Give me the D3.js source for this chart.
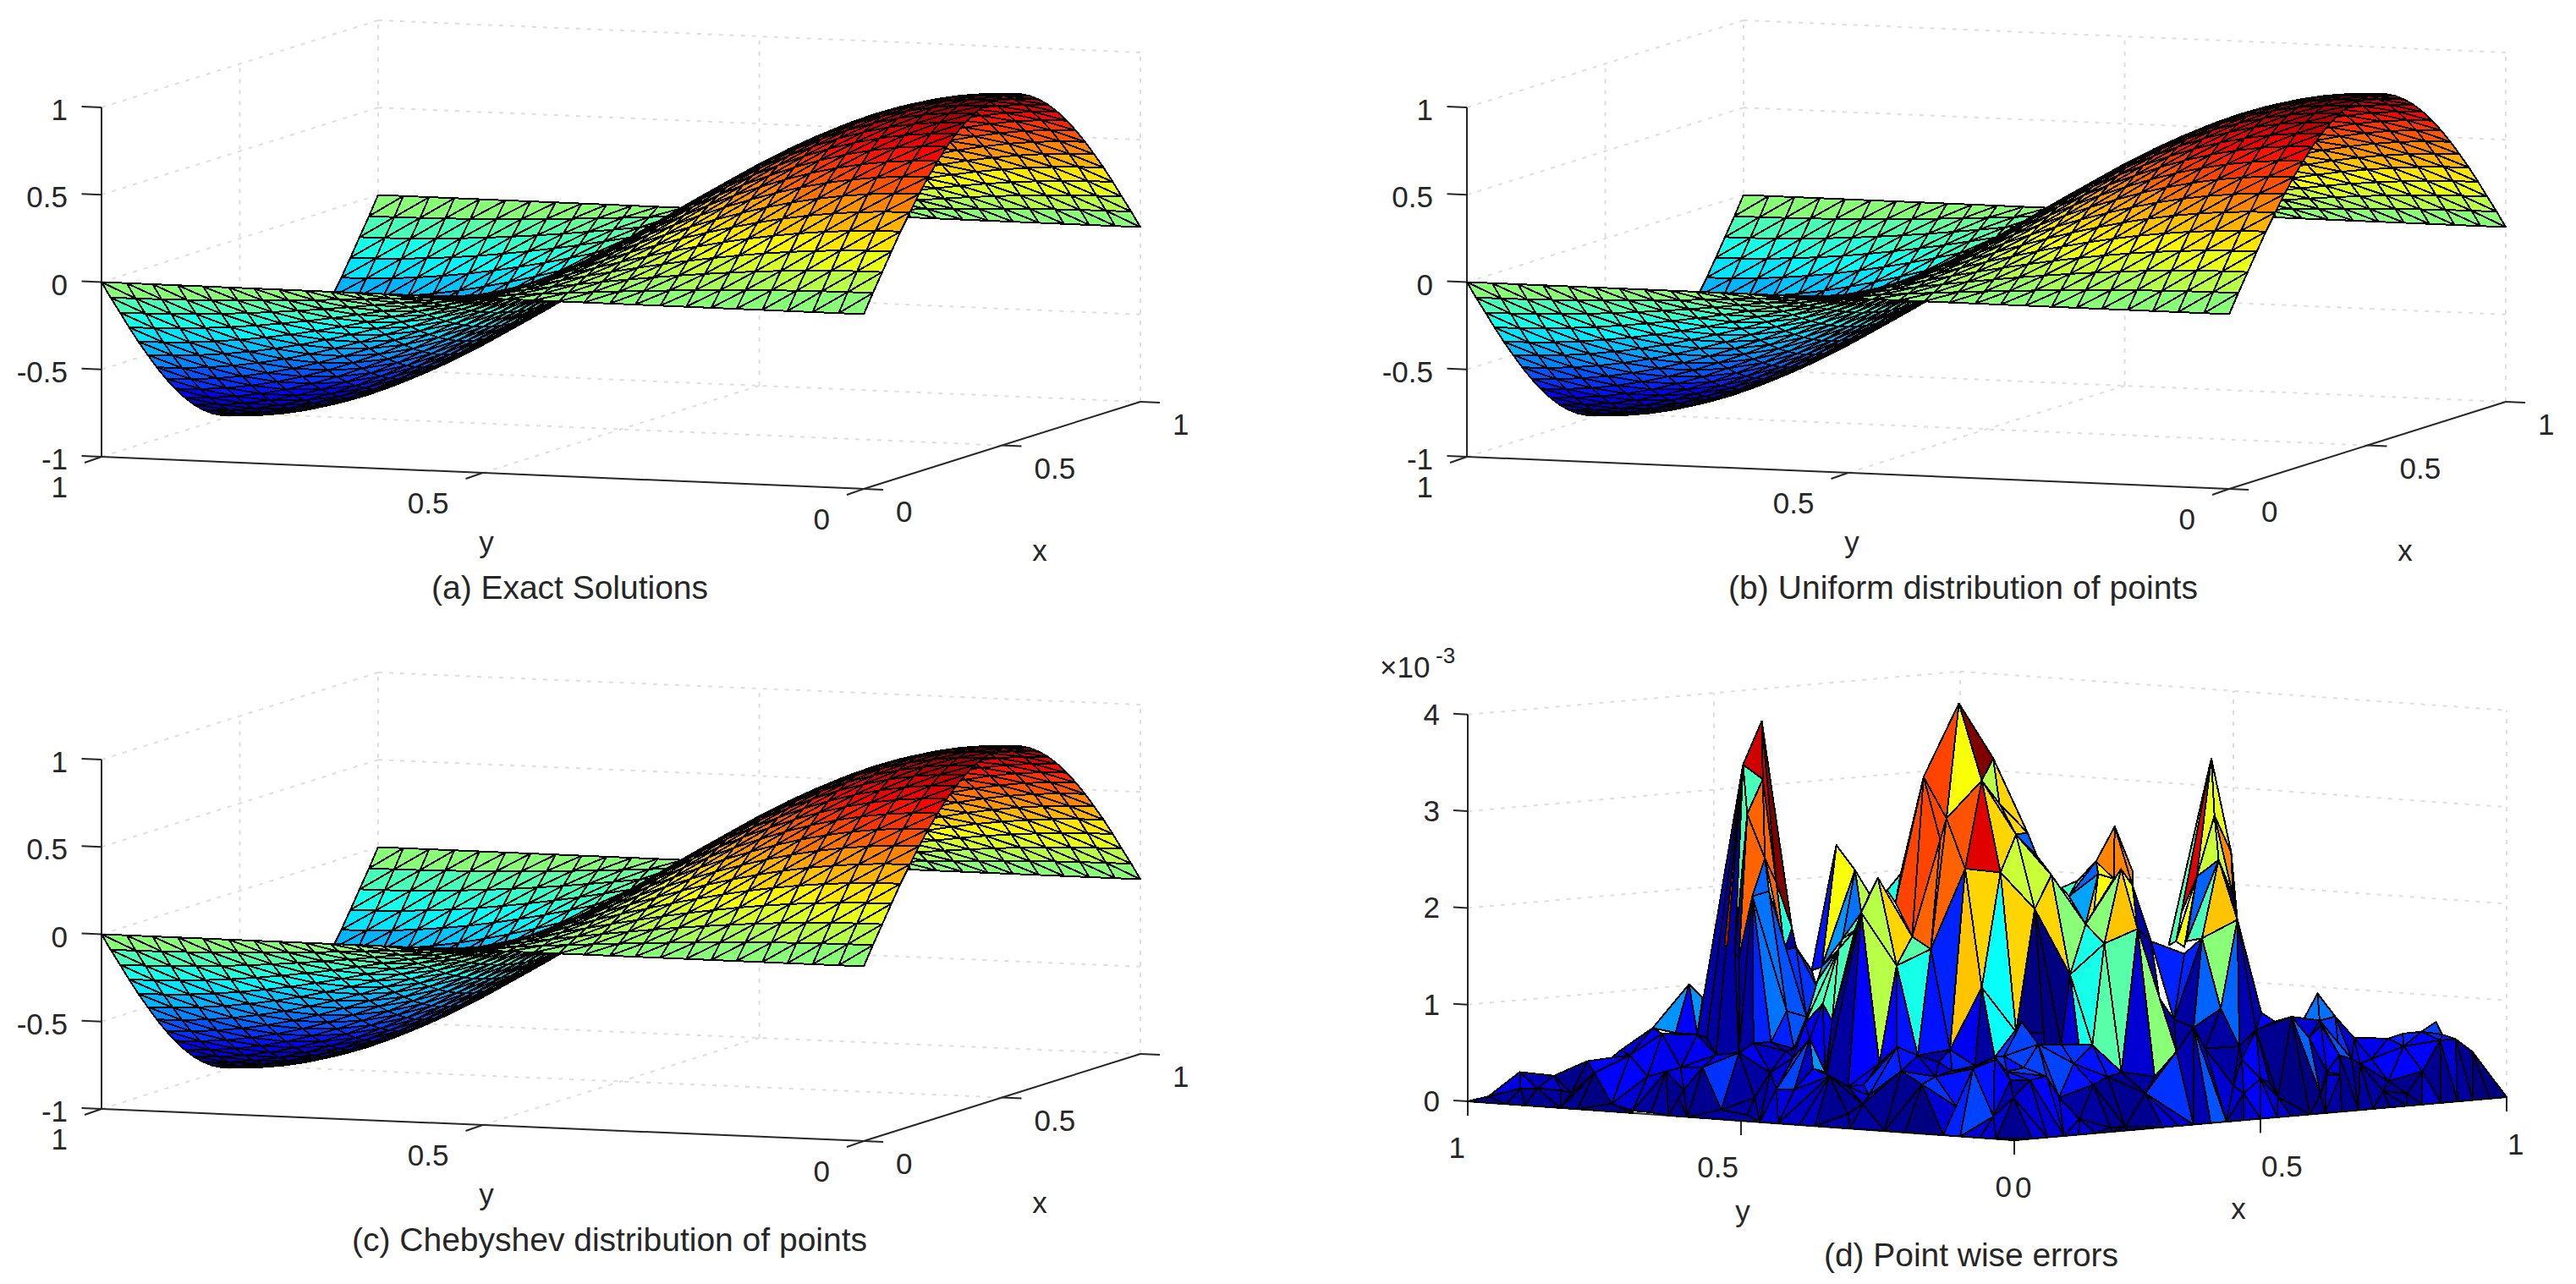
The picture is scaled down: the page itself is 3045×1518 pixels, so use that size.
<!DOCTYPE html>
<html>
<head>
<meta charset="utf-8">
<script src="https://cdnjs.cloudflare.com/ajax/libs/d3/7.8.5/d3.min.js"></script>
<style>
  body { margin: 0; background: #fff; }
  text { font-family: "Liberation Sans", Arial, sans-serif; font-size: 35px; fill: #262626; }
  text.caption { font-size: 39px; }
  .grid { stroke: #dedede; stroke-width: 2; stroke-dasharray: 5 8; fill: none; }
  .axis { stroke: #262626; stroke-width: 2; fill: none; }
  .face { stroke: #000; stroke-width: 2; stroke-linejoin: round; shape-rendering: crispEdges; }
</style>
</head>
<body>
<svg width="3045" height="1518"></svg>
<script>
let svg = d3.select("svg");

// surface (a,b,c): u(x,y) read as a profile along x times a profile along y
const meshCoords = [0,.033,.067,.1,.133,.167,.2,.233,.267,.3,.333,.367,.4,.433,.467,.5,.533,.567,.6,.633,.667,.7,.733,.767,.8,.833,.867,.9,.933,.967,1];
const profileX = [0,.105,.208,.309,.407,.5,.588,.669,.743,.809,.866,.914,.951,.978,.995,1,.995,.978,.951,.914,.866,.809,.743,.669,.588,.5,.407,.309,.208,.105,0];
const profileY = [1,.995,.978,.951,.914,.866,.809,.743,.669,.588,.5,.407,.309,.208,.105,0,-.105,-.208,-.309,-.407,-.5,-.588,-.669,-.743,-.809,-.866,-.914,-.951,-.978,-.995,-1];

const captions = ["(a) Exact Solutions", "(b) Uniform distribution of points", "(c) Chebyshev distribution of points", "(d) Point wise errors"];
const surfaceZTicks = [-1,-.5,0,.5,1];
const errorZTicks = [0,1,2,3,4];
const floorTicks = [0,.5,1];

// error mesh (d): [name, x, y, z*1e3]
const errNodes = [
["F0",0,0,0],
["L0",0,1,0],["L1",.02,.98,.05],["L2",.05,.95,.30],["L3",.083,.917,.26],["L4",.115,.885,.41],["L5",.137,.863,.43],["L6",.147,.853,.52],["L7",.178,.822,.75],["L8",.213,.787,1.20],["L9",.226,.774,1.06],["L10",.187,.813,.69],["L11",.221,.779,.68],["L13",.2,.8,.70],["L14",.177,.823,.62],["L15",.156,.844,.47],["L16",.205,.795,.34],["L17",.173,.827,.25],["L18",.239,.761,.47],["L19",.122,.878,.29],["L21",.099,.826,0],
["P1",.051,.949,.13],["P2",.067,.933,.13],["P3",.09,.91,.11],["P4",.10,.90,.08],
["E1",0,.969,0],["E2",0,.93,0],["E3",0,.896,0],["E4",0,.83,0],["E5",0,.799,0],["E6",0,.698,0],
["U1",.226,.774,.34],["U2",.191,.809,.30],["U4",.031,.726,0],["U5",.026,.688,0],["U6",0,.633,0],["U7",0,.598,0],["U8",.123,.647,0],["U10",.208,.792,.11],["U11",.081,.562,0],
["A1",.283,.717,3.92],["A2",.265,.735,3.47],["A3",.284,.716,3.32],["A4",.269,.731,2.96],["A5",.286,.714,2.50],["A6",.274,.726,2.11],["A7",.29,.71,2.16],["A9",.261,.739,1.47],["A10",.307,.693,.92],["A11",.292,.708,.60],["A12",.275,.725,.59],["A13",.261,.739,.49],["A14",.23,.77,.65],["A15",.257,.743,1.52],["A16",.314,.686,.53],["AL1",.23,.77,1.21],["AT1",.247,.753,1.60],["AT2",.25,.75,1.60],["Ar1",.297,.703,2.25],["Ar2",.312,.688,1.78],["Ar3",.305,.695,1.55],
["M2",.326,.674,.86],["M3",.336,.664,1.17],["M4",.316,.684,1.58],["M5",.331,.669,1.34],
["b1",.578,.622,4.01],["b2",.544,.656,3.25],["b3",.611,.589,3.44],["b4",.6,.6,3.21],["b5",.566,.634,2.82],["b7",.56,.64,2.60],["b8",.584,.616,2.30],["b9",.618,.582,2.26],["b10",.633,.567,2.65],["b11",.644,.556,2.67],["b12",.653,.547,2.43],["b13",.667,.533,2.23],["b14",.651,.549,1.88],["b16",.533,.667,1.60],["b17",.551,.649,1.47],["b18",.522,.678,2.25],["bx",.517,.683,1.95],["B0",.509,.691,2.08],["b22",.617,.583,2.97],
["d1",.484,.716,1.85],["d2",.5,.7,2.21],["d3",.46,.74,2.55],["d4",.478,.722,2.29],["d5",.518,.682,1.30],["d6",.6,.6,1.07],["dS",.492,.708,2.04],["d8",.359,.441,.60],["d9",.328,.472,.54],["d10",.308,.492,.63],["d11",.291,.509,.46],["d12",.402,.398,.52],["d13",.261,.539,.22],["d14",.24,.56,.35],["d17",.633,.567,.61],["d18",.383,.417,.43],["d19",.662,.538,.59],
["n4",.446,.754,1.29],["n5",.466,.734,1.58],["n6",.478,.722,1.67],["n7",.462,.738,1.47],["n8",.442,.758,1.15],["n9",.43,.77,.71],["n10",.447,.753,.91],["n11",.456,.744,.73],
["c1",.7,.5,1.72],["c2",.685,.515,1.20],["c3",.718,.482,1.52],["c4",.75,.45,1.67],["c5",.734,.466,2.29],["c6",.728,.472,2.73],["c7",.71,.49,2.37],["c8",.712,.488,2.24],["c9",.684,.516,2.01],["c10",.677,.523,2.10],["c11",.692,.508,2.17],["c12",.727,.473,2.19],["c13",.745,.455,2.12],["c14",.763,.437,1.54],["c15",.795,.405,1.41],["c16",.745,.455,2.27],["cY",.708,.492,1.86],["cy1",.755,.445,1.55],["cy2",.762,.438,1.54],["z8",.771,.429,.95],
["e1",.821,.379,3.43],["e2",.824,.376,2.84],["e3",.828,.372,2.38],["e4",.807,.393,2.21],["e5",.846,.354,1.76],["e6",.812,.388,1.57],["e8",.84,.36,2.46],["e9",.788,.412,1.74],["e10",.78,.42,1.50],["e12",.792,.408,1.83],["e15",.787,.413,1.54],["e16",.842,.358,2.00],["e17",.797,.403,1.54],["ey",.795,.405,1.48],["e18",.83,.37,.84],["e19",.804,.396,.65],["e20",.848,.352,.45],["e21",.869,.331,.80],["e22",.864,.336,.62],["e23",.815,.385,.43],["e24",.785,.415,.73],
["g2",.777,.223,.79],["g3",.793,.207,.84],["g5",.818,.182,1.08],["g6",.835,.165,.84],["g7",.804,.196,.80],["g8",.82,.18,.80],["g9",.853,.147,.62],["g10",.886,.114,.61],["g11",.9,.1,.66],["g12",.918,.082,.68],["g13",.932,.068,.78],["g14",.938,.062,.65],["g15",.951,.049,.60],["g16",.967,.033,.47],["G",1,0,0],
["h3",.821,.179,.75],["h4",.839,.161,.44],["h5",.851,.149,.40],["h6",.859,.141,.35],["h7",.87,.13,.40],["h9",.901,.099,.53],["h10",.886,.114,.17],["h11",.919,.081,.27],["h12",.936,.064,.59],["h14",.904,.096,.04],["h15",.881,.119,.07],["h16",.84,.16,.24],["h17",.827,.173,.23],["h18",.827,.173,.27],["h19",.81,.19,.62],["h21",.821,.179,.03],
["t1",.745,.255,.40],["t2",.737,.263,.13],["t3",.763,.237,.20],["t4",.747,.253,.05],["t5",.78,.22,.01],["t6",.772,.228,.16],
["Q3",.186,.614,.37],["Q5",.171,.629,.11],["Q6",.208,.592,.52],["Q7",.224,.576,.72],["Q9",.192,.608,.20],["Q10",.209,.591,.19],["Q11",.227,.573,.41],["Q12",.243,.557,.33],["Q13",.239,.561,.37],["Q18",.275,.525,.04],["Q22",.184,.47,0],["Q23",.332,.468,.24],["Q30",.284,.294,0],["Q31",.42,.38,.10],["Q32",.436,.364,.28],["Q33",.417,.383,.28],["Q35",.201,.599,.59],["Q36",.365,.435,.01],
["R2",.276,.524,.24],["R4",.281,.519,.13],["R6",.312,.488,.38],["R7",.345,.455,.32],["R8",.361,.439,.38],["R9",.348,.452,.47],["R12",.381,.419,.40],["R14",.411,.389,.53],["R15",.428,.372,.88],["R16",.444,.356,.65],["R19",.414,.386,.37],["R20",.43,.37,.41],["R21",.452,.348,.32],
["z0",.45,.35,.65],["z1",.466,.334,.65],["z2",.483,.317,.65],["z3",.496,.304,.64],["z4",.524,.276,.36],["z5",.556,.244,.31],["z6",.577,.223,.57],
["w1",.478,.322,.45],["w2",.497,.303,.23],["w3",.464,.336,.10],["w4",.511,.289,.31],["w5",.547,.253,.14],["w6",.33,.178,0],["w7",.25,.049,0],["w8",.274,.044,0],
["jA",0,.033,0],["jC",0,.099,0],["jB",0,.063,0],["jD",0,.13,0],["jE",0,.20,0],["jF",0,.237,0],["jG",0,.30,0],["jH",0,.365,0],["jI",0,.393,0],["jJ",0,.432,0],["jK",0,.466,0],
["kA",.966,0,0],["kB",.931,0,0],["kC",.90,0,0],["kD",.866,0,0],["kE",.828,0,0],["kF",.797,0,0],["kG",.763,0,0],["kH",.729,0,0],["kI",.699,0,0],["kJ",.665,0,0],["kK",.631,0,0],["kL",.60,0,0],["kM",.562,0,0],["kN",.534,0,0],["kO",.5,0,0],["kP",.466,0,0],["kQ",.431,0,0],["kR",.399,0,0],["kS",.364,0,0],["kT",.333,0,0],["kU",.302,0,0],["kV",.23,0,0],["kW",.199,0,0],["kX",.165,0,0],["kY",.131,0,0],["kZ",.101,0,0],["ka",.067,0,0],["kb",.036,0,0]
];

// error faces, back to front: "node node node colourValue"
const errFaces = [
// low ground under everything
"L11 e22 F0 .1","L11 U7 F0 .1","e22 kO F0 .1","kO kK e22 .1","e22 g3 kK .1",
"L7 L8 L13 1.1","L8 L9 L11 1.1","L8 L13 L11 .55","L7 L14 L10 .7","L4 L5 L15 .4","L5 L6 L15 .4","L6 L7 L15 .35","L7 L10 L15 .45","L15 L10 L17 .5","L10 L16 L17 .45","L10 L11 L16 .4","L11 L18 L16 .45","L4 L15 L19 .5","L15 L19 L21 .55","L15 L17 L21 .5",
"L0 L1 E1 .1","L1 E1 E2 .1","L1 P1 E2 .1","L1 L2 P1 .4","L2 P1 P2 .45","L2 L3 P2 .2","L3 P2 P3 .3","L3 P3 P4 .2","L3 L4 P4 .05","L4 L19 P4 .05","P1 E2 E3 .1","P1 P2 E3 .08","P2 E3 E4 .08","P2 P3 E4 .1","P3 P4 E4 .05","L19 P4 E4 .04","L19 E4 E5 .05","L19 E5 L21 .03","L21 E5 E6 .05",
"L21 L17 U4 .3","L17 U4 U2 .3","L21 U4 E6 .05","L17 L16 U2 .4","U2 U4 U5 .15","U2 U5 U6 .1","U2 U6 U7 .08","U2 U10 U7 .1","U2 U6 U10 .08","U2 U10 L16 .4","L16 U10 U1 .4","L16 L18 U1 .45",
// peak on the left
"M4 M5 M3 .7","M4 M3 M2 .7","Ar3 M4 M2 .7","Ar2 M4 Ar3 .1","A1 Ar2 Ar1 4.1","Ar1 Ar2 Ar3 1.7",
"A2 AL1 L11 .5","A2 L11 A14 .2","A2 A14 L18 .15","A2 L18 A13 .15","A2 A13 A15 .15","A2 A15 A4 1.85","A2 AT1 AT2 3.7","A4 A15 A9 .1",
"A1 A3 Ar1 3.75","A1 A2 A3 3.75","A2 A3 A4 1.85","A3 A4 A5 3.2","A3 A5 Ar1 3.2","A4 A9 A5 3.2","A5 A9 A6 3.2","A5 Ar1 Ar3 3.2","A5 Ar3 A7 2.3","A7 Ar3 M2 2.3","A7 M2 A10 .85","A5 A6 A7 .9",
"A6 A9 A13 .15","A6 A12 A13 .15","A6 A11 A12 .68","A6 A10 A11 1.0","A6 A7 A10 1.0","A10 A11 A16 .68","A10 A16 M2 .85",
// central peak
"B0 b18 bx 1.65","bx b2 b18 3.33","bx b2 b16 3.33","b2 b7 b16 3.33","b1 b2 b5 3.3","b2 b7 b5 3.3","b7 b17 b16 3.2","b5 b7 b17 3.25","b5 b8 b17 3.2",
"b1 b5 b4 2.56","b1 b4 b3 4.1","b4 b5 b8 3.25","b4 b9 b8 3.71","b3 b22 b4 2.3","b3 b11 b22 2.75","b4 b22 b10 2.72","b22 b11 b10 2.72","b10 b11 b12 .9","b4 b10 b9 2.72","b10 b14 b9 2.35","b10 b13 b14 2.35","b10 b12 b13 2.35",
// lobes behind the right of the centre
"c10 c11 c9 1.75","c11 c7 c9 1.75","c7 c8 c9 .9","c6 c7 c12 3.05","c7 c8 c12 2.6","c6 c12 c13 3.05","c6 c13 c16 3.05","c8 c12 cY 2.56","c8 cY c1 2.72","c8 c1 c9 1.15","c12 c13 c4 2.56",
"c5 c13 c4 2.56","c13 c14 c4 .1","cy1 cy2 z8 2.56",
// right peak
"e10 e9 e1 .9","e10 e1 e15 1.85","e12 e1 e4 3.71","e15 e4 e17 1.85","e15 e4 ey 2.56","e1 e4 e2 2.45","e1 e2 e8 2.45","e2 e8 e16 3.05","e8 e16 e5 .1","e2 e4 e3 2.35","e2 e3 e16 2.35","e3 e16 e5 .1","e4 e3 e17 .9","e3 e6 e17 1.85","e3 e5 e6 2.79",
"c15 e6 e24 .64","c14 c15 e24 .64","c4 c14 z8 .1","z8 e24 z6 .1","e6 e5 e18 2.05","e6 e18 e19 .9","e6 e19 e24 .1","e24 e19 z6 .15","e18 e19 e23 .1","e5 e18 e20 .9","e5 e20 e22 .2","e5 e21 e22 .2",
// low ground on the right, back part
"e21 g2 e22 .55","g5 g7 g8 1.0","g5 g8 g6 1.0","g7 g3 g8 1.1","g3 g8 h19 .3","e22 g3 h19 .1","g6 g8 h4 .7","g6 g9 h5 .35","g6 h4 h5 .7","g8 h4 h5 .85","g9 g10 h7 .45","g9 h5 h6 .4","g9 h6 h7 .45","g10 g11 h9 .65","g10 h9 h7 .5","g11 g12 h9 .65","g12 g13 g14 .8","g12 g14 h12 .65","g12 h12 h9 .55","g14 g15 h12 .6",
// yellow shoulder and middle spikes
"d3 M5 n4 .6","d3 n4 d4 2.56","d4 n4 n5 1.1","d4 d1 n5 1.0","d4 dS d1 2.3","n5 d1 n6 1.75","n5 n6 n7 1.85","n4 n7 n8 1.1","M3 n8 n9 .7","n7 n8 n9 1.75","n7 n9 n10 1.8","n7 n10 n11 1.85","n7 n6 n11 1.85","d1 n6 n11 .15","d1 d14 n11 .1","d1 d14 d13 .1",
"d2 dS d1 2.3","d2 d1 d5 2.3","d2 d5 b16 2.72","d1 d5 d11 2.3","d1 d11 d13 .5","d11 d13 R2 .5","d11 R2 d10 .5","d5 d10 d11 .5","d5 d9 d10 .6","d5 b17 d9 1.65","d5 b16 b17 1.9",
"b8 b17 d8 .64","b17 d9 d8 .6","b8 d6 d8 2.79","b8 b9 d6 2.72","b9 d6 d17 1.54","b9 b14 d17 2.72","d6 d18 d8 .45","d6 d12 d18 .1","d6 d17 d12 1.54",
"b14 d17 d19 .03","b14 z0 d19 .03","b14 z1 z0 .03","b14 c2 z1 .03","b13 b14 c2 2.72","b13 c1 c2 2.1","c1 c3 c2 1.6","c5 c1 c3 2.05","c5 c3 c4 2.79","c2 z2 z1 .3","c2 z3 z2 1.6","c2 c3 z3 1.6","c3 z3 z4 1.9","c3 c4 z4 1.9","c4 z4 z5 .3","c4 z5 z6 2.1",
// front of the left peak
"A11 A16 Q35 .3","A12 A11 Q35 .35","U1 L18 A13 .45","U1 U10 U7 .1","U1 U7 U8 .05","A13 U1 U8 .7","A13 Q5 U8 .15","Q5 U8 U11 .1","A13 Q3 Q5 .15","A12 A13 Q3 .45","A12 Q35 Q3 .25","Q35 Q6 Q3 .3","Q3 Q6 Q9 .35",
"n10 n9 Q7 .45","n10 Q7 Q13 .45","n10 Q13 n11 .5","Q6 n9 Q7 .5","Q7 Q9 Q10 .75","Q6 Q7 Q9 .75","Q7 Q10 Q11 .25","Q7 Q11 Q13 1.1","Q3 Q9 jK .2","Q3 Q5 jK .12","Q5 U11 jK .1","Q9 Q10 jJ .4","Q9 jK jJ .3","Q11 Q12 Q10 .5","Q10 Q12 jJ .35","Q12 jJ jI .25","Q12 jI jH .25","Q12 jH Q22 .05","Q12 Q22 Q18 .08","Q12 d13 Q18 .1",
// front of the centre
"d13 R2 R4 .45","d13 R4 Q18 .4","d10 R2 R4 .65","d10 R4 R6 .65","d10 R6 d9 .6","d9 R6 R7 .35","d9 R7 R9 .3","d8 R9 R8 .6","d8 d18 R8 .64","R9 R7 R8 .3","R8 R12 R7 .6",
"R6 R7 Q23 .65","R7 Q36 Q23 .7","R7 R12 Q36 .6","R4 Q18 R6 .35","R6 Q18 jF .06","R6 jF Q23 .04","Q23 jF jE .05","Q23 jE jD .03","Q23 Q36 jD .3","Q22 jH jG .1","Q22 Q18 jG .15","Q18 jG jF .1",
"Q36 R12 jD .64","R12 jD jC .68","R12 jC Q30 .8","R12 Q30 R14 .6","R12 d12 R14 .7","jC Q30 jB .3","Q30 jB jA .3",
"R15 d12 R14 .7","R15 R14 R16 .75","R14 R16 R20 .8","R16 R21 R20 .75","R14 R20 R19 .6","d12 R14 R19 .7","R19 R20 R21 .75","R19 R21 Q32 .6","R19 Q32 Q33 .6","d12 R19 Q33 .6","d12 Q33 Q30 .5",
"Q33 Q32 Q31 .15","Q33 Q31 Q30 .2","Q31 Q30 jA .35","Q31 jA kb .04","Q31 kb ka .3","Q32 Q31 ka .35","Q32 ka kZ .3","R21 Q32 kZ .55","R21 w3 kZ .5","R16 R21 w3 .7",
"R16 z1 w1 .7","z1 z3 w1 .7","R16 w1 w3 .78","w1 w2 w3 .6","w1 z3 w4 .6","w1 w4 w2 .55",
"w3 w6 kZ .4","w6 kY kZ .3","w6 kX kY .35","w3 w2 w6 .1","w2 w6 w7 .1","w6 w7 kX .2","w7 kW kX .25","w2 w7 w8 .04","w8 w7 kW .05","w2 w4 w8 .06","w4 w5 w8 .05","z3 z4 w4 .6","z4 w5 w4 .05","z4 z5 w5 .1","w5 w8 kU .08","w8 kU kV .05","w5 kU kT .3","w5 kT kS .35","z5 z6 w5 .3",
"z6 w5 kS .7","e19 z6 kS .2","e19 kS kR .2","e19 kR kQ .85","e19 e23 kQ .35","e23 t2 kQ .35","e23 e20 t2 .1","e18 e23 e20 .1","e20 t1 t2 .1","e20 e22 t1 .1",
// front of the right side
"t2 t4 t1 .3","t2 kQ t4 .35","t1 t4 t3 .55","e22 t1 t3 .5","e22 t3 t6 .45","t4 kQ kP .15","t4 kP kO .3","t4 t3 kO .55","t3 kO kN .55","t3 t5 kN .3","t6 t3 t5 .1","e22 t6 t5 .08","g2 g3 e22 .1","e22 g3 t5 .06","t5 kN kM .3","t5 kM kL .05","g3 t5 kL .03","g3 kL h21 .03","g3 h21 h19 .9",
"g8 h3 h19 .3","h3 h4 h18 .5","h3 h19 h18 .5","h19 h21 h18 .1","h18 h4 h16 .4","h18 h17 h16 .3","h18 h21 h17 .1","h17 h16 kK .3","h17 kK h21 .1","h21 kK kL .05","h16 kK kJ .1","h16 h4 kJ .3","h4 kJ kI .05","h4 h5 kI .1","h5 h6 kI .05","h6 kI kH .1",
"h7 h6 h10 .4","h6 h15 h10 .15","h6 kH h15 .1","h15 kH kG .05","h15 kG kF .05","h15 h14 kF .05","h10 h15 h14 .08","h9 h7 h10 .5","h9 h10 h11 .55","h9 h12 h11 .5","h10 h14 h11 .08","h14 kF kE .05","h14 h11 kE .05","h11 kE kD .3","h11 h12 kD .05","h12 kD kC .05","h12 g15 kC .3","g15 kC kB .15","g15 g16 kB .05","g16 kB kA .03","g16 kA G .03"
];

// jet colormap, 64 steps like the matlab one
const jetStops = [0,.125,.375,.625,.875,1];
const jetColours = ["#000080","#0000ff","#00ffff","#ffff00","#ff0000","#800000"];
let jetRamp = d3.scaleLinear().domain(jetStops).range(jetColours).interpolate(d3.interpolateRgb);
let jet = t => jetRamp(Math.round(Math.max(0, Math.min(1, t)) * 63) / 63);

let makeProjection = (left, xVec, yVec, zDomain, zPixels) => {
  let xToX = d3.scaleLinear([0, 1], [0, xVec[0]]), xToY = d3.scaleLinear([0, 1], [0, xVec[1]]);
  let yToX = d3.scaleLinear([1, 0], [0, yVec[0]]), yToY = d3.scaleLinear([1, 0], [0, yVec[1]]);
  let zToY = d3.scaleLinear(zDomain, [0, -zPixels]);
  return (x, y, z) => [left[0] + xToX(x) + yToX(y), left[1] + xToY(x) + yToY(y) + zToY(z)];
}

// walls, floor lines and axes of one box
let drawBox = (g, project, zTicks, style) => {
  let zMin = zTicks[0], zMax = zTicks[zTicks.length - 1];
  let gridLine = (a, b) => g.append("line").attr("class", "grid")
    .attr("x1", a[0]).attr("y1", a[1]).attr("x2", b[0]).attr("y2", b[1]);
  for (const z of zTicks.slice(1)) {
    gridLine(project(0, 1, z), project(1, 1, z));
    gridLine(project(1, 1, z), project(1, 0, z));
  }
  for (const t of floorTicks.slice(1)) {
    gridLine(project(t, 1, zMin), project(t, 1, zMax));
    gridLine(project(1, 1 - t, zMin), project(1, 1 - t, zMax));
  }
  gridLine(project(.5, 1, zMin), project(.5, 0, zMin));
  gridLine(project(0, .5, zMin), project(1, .5, zMin));
  gridLine(project(0, 1, zMin), project(1, 1, zMin));
  gridLine(project(1, 1, zMin), project(1, 0, zMin));

  let axisLine = (a, b) => g.append("path").attr("class", "axis").attr("d", d3.line()([a, b]));
  axisLine(project(0, 1, zMin), project(0, 1, zMax));
  axisLine(project(0, 1, zMin), project(0, 0, zMin));
  axisLine(project(0, 0, zMin), project(1, 0, zMin));

  let label = (p, txt, dx, dy, anchor) => g.append("text")
    .attr("x", p[0] + dx).attr("y", p[1] + dy).attr("text-anchor", anchor).text(txt);

  for (const z of zTicks) {
    let p = project(0, 1, z);
    axisLine(p, [p[0] + style.zTick[0], p[1] + style.zTick[1]]);
    label(p, String(z), style.zLabel[0], style.zLabel[1], "end");
  }
  for (const t of floorTicks) {
    let p = project(0, t, zMin), q = project(t, 0, zMin);
    axisLine(p, [p[0] + style.yTick[0], p[1] + style.yTick[1]]);
    axisLine(q, [q[0] + style.xTick[0], q[1] + style.xTick[1]]);
    label(p, String(t), style.yLabel[0], style.yLabel[1], "end");
    label(q, String(t), style.xLabel[0], style.xLabel[1], "start");
  }
  label(project(0, .5, zMin), "y", style.yTitle[0], style.yTitle[1], "middle");
  label(project(.5, 0, zMin), "x", style.xTitle[0], style.xTitle[1], "middle");
}

let drawFaces = (g, faces) => {
  g.selectAll("polygon").data(faces).enter().append("polygon")
    .attr("class", "face")
    .attr("points", d => d.points.map(p => p.join(",")).join(" "))
    .attr("fill", d => d.fill);
}

// surface panels: regular grid, one diagonal per cell, far cells first
let drawSurface = (dx, dy, caption, capX, capW) => {
  let g = svg.append("g").attr("transform", `translate(${dx},${dy})`);
  let project = makeProjection([120, 540], [327, -103], [901, 38], [-1, 1], 413);
  drawBox(g, project, surfaceZTicks, {
    zTick: [-23.5, -1], yTick: [-20, 7], xTick: [23, 1],
    zLabel: [-40, 15], yLabel: [-40, 48], xLabel: [38, 39],
    yTitle: [4.5, 94], xTitle: [44.5, 136.5]
  });

  let node = (i, j) => ({ x: meshCoords[i], y: meshCoords[j], z: profileX[i] * profileY[j] });
  let faces = [];
  let addFace = tri => {
    let closest = tri.reduce((a, b) => Math.abs(b.z) < Math.abs(a.z) ? b : a);
    faces.push({
      points: tri.map(n => project(n.x, n.y, n.z)),
      fill: jet((closest.z + 1) / 2),
      depth: d3.mean(tri, n => 894 * n.x + 324 * n.y)
    });
  };
  for (let i = 0; i < meshCoords.length - 1; i++) {
    for (let j = 0; j < meshCoords.length - 1; j++) {
      addFace([node(i, j), node(i + 1, j), node(i, j + 1)]);
      addFace([node(i + 1, j + 1), node(i + 1, j), node(i, j + 1)]);
    }
  }
  faces.sort((a, b) => d3.descending(a.depth, b.depth));
  drawFaces(g, faces);
  g.append("text").attr("class", "caption").attr("x", capX).attr("y", 708).attr("textLength", capW).text(caption);
}

let drawErrors = () => {
  let g = svg.append("g");
  let project = makeProjection([1735, 1302], [582, -51], [646, 46], [0, 4], 457.2);
  drawBox(g, project, errorZTicks, {
    zTick: [-17, -1], yTick: [0, 17], xTick: [0, 17],
    zLabel: [-33, 12], yLabel: [-3, 67], xLabel: [1, 68],
    yTitle: [2, 119], xTitle: [-26, 118.5]
  });
  g.append("text").attr("x", 1631).attr("y", 801).text("×10");
  g.append("text").attr("x", 1697).attr("y", 784).style("font-size", "26px").text("-3");

  let nodes = new Map(errNodes.map(n => [n[0], project(n[1], n[2], n[3])]));
  let faces = errFaces.map(row => {
    let parts = row.split(" ");
    return { points: parts.slice(0, 3).map(name => nodes.get(name)), fill: jet(+parts[3] / 4.1) };
  });
  drawFaces(g, faces);
  g.append("text").attr("class", "caption").attr("x", 2156).attr("y", 1497).attr("textLength", 348).text(captions[3]);
}

drawSurface(0, 0, captions[0], 510, 327);
drawSurface(1614, 0, captions[1], 429, 555);
drawSurface(0, 771, captions[2], 416, 609);
drawErrors();
</script>
</body>
</html>
